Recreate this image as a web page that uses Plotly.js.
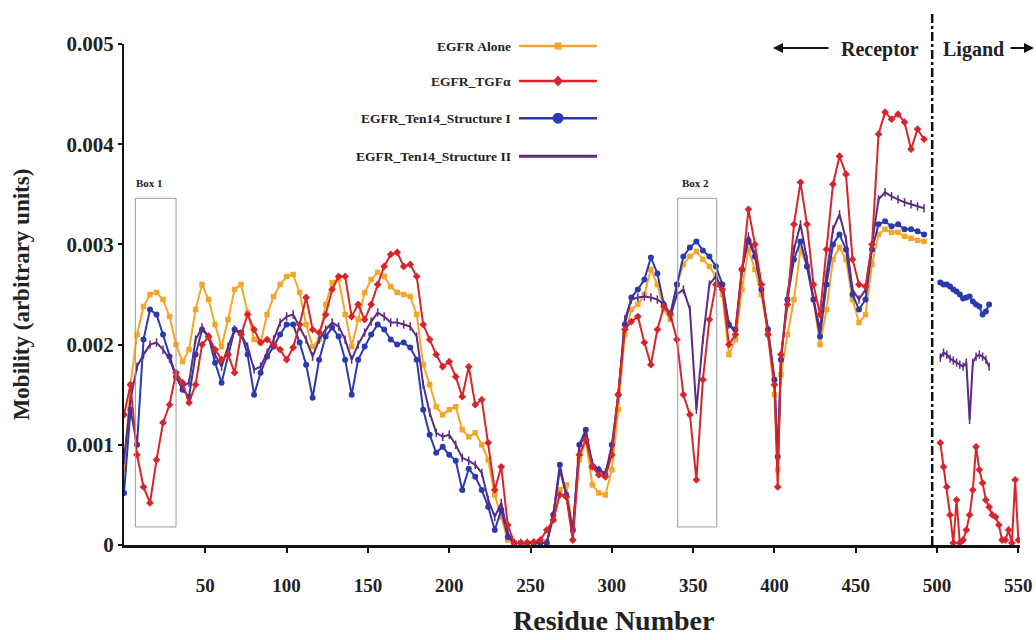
<!DOCTYPE html>
<html>
<head>
<meta charset="utf-8">
<script src="https://cdn.plot.ly/plotly-3.0.1.min.js"></script>
<style>html,body{margin:0;padding:0;background:#fff;}#chart{width:1036px;height:640px;}</style>
</head>
<body>
<div id="chart"></div>
<script>
// Residue numbers of the receptor samples
const residues = [
  0,4,8,12,16,20,24,28,32,36,
  40,44,48,52,56,60,64,68,72,76,
  80,84,88,92,96,100,104,108,112,116,
  120,124,128,132,136,140,144,148,152,156,
  160,164,168,172,176,180,184,188,192,196,
  200,204,208,212,216,220,224,228,232,236,
  240,244,248,252,256,260,264,268,272,276,
  280,284,288,292,296,300,304,308,312,316,
  320,324,328,332,336,340,344,348,352,356,
  360,364,368,372,376,380,384,388,392,396,
  400,402,404,408,412,416,420,424,428,432,
  436,440,444,448,452,456,460,464,468,472,
  476,480,484,488,492
];
// Residue numbers of the ligand samples
const ligandResidues = [502,504,506,508,510,512,514,516,518,520,522,524,526,528,530,532,534,536,538,540,542,544,546,548,550];

// Mobility values, in units of 0.001
const egfrAlone = [
  0.75,1.6,2.1,2.38,2.5,2.52,2.45,2.28,2.0,1.83,
  1.95,2.35,2.6,2.45,2.2,1.98,2.25,2.55,2.6,2.32,
  2.05,2.02,2.3,2.48,2.6,2.68,2.7,2.52,2.2,1.98,
  2.05,2.4,2.62,2.65,2.3,1.98,2.25,2.52,2.65,2.72,
  2.68,2.58,2.52,2.5,2.48,2.3,1.8,1.6,1.38,1.3,
  1.35,1.38,1.15,1.08,1.12,1.0,0.85,0.5,0.28,0.05,
  0.02,0.02,0.02,0.02,0.02,0.03,0.25,0.55,0.6,0.15,
  0.85,1.05,0.6,0.52,0.5,0.75,1.35,2.1,2.35,2.4,
  2.5,2.75,2.6,2.35,2.25,2.6,2.8,2.88,2.93,2.85,
  2.78,2.68,2.5,1.9,2.05,2.55,2.95,2.75,2.5,2.1,
  1.5,0.75,1.7,2.1,2.45,2.95,2.78,2.45,2.0,2.35,
  2.85,2.97,2.85,2.45,2.22,2.3,2.8,3.1,3.15,3.12,
  3.12,3.08,3.06,3.04,3.03
];
const egfrTGFa = [
  1.3,1.6,0.9,0.58,0.42,0.85,1.22,1.4,1.72,1.62,
  1.42,1.6,2.0,2.08,1.95,1.85,1.9,1.72,2.1,2.3,
  2.15,2.02,2.05,2.0,1.95,1.85,1.97,2.2,2.47,2.15,
  2.12,2.3,2.55,2.68,2.68,2.28,2.4,2.25,2.4,2.6,
  2.78,2.9,2.92,2.78,2.8,2.68,2.2,2.05,1.9,1.78,
  1.83,1.68,1.48,1.78,1.4,1.45,1.02,0.55,0.78,0.2,
  0.02,0.02,0.02,0.03,0.05,0.15,0.25,0.5,0.48,0.05,
  0.9,1.05,0.78,0.7,0.68,0.9,1.5,2.15,2.23,2.28,
  2.02,1.8,2.15,2.38,2.3,2.05,1.5,1.3,0.65,1.65,
  2.25,2.6,2.55,2.0,2.1,2.75,3.35,3.0,2.6,2.1,
  1.6,0.58,1.9,2.4,3.2,3.62,3.2,2.6,2.3,2.95,
  3.6,3.88,3.7,2.85,2.6,2.58,3.0,4.1,4.32,4.25,
  4.3,4.22,3.95,4.15,4.05
];
const structureI = [
  0.52,1.35,1.0,2.05,2.35,2.3,2.1,1.88,1.68,1.55,
  1.48,1.9,2.15,2.08,1.82,1.62,1.9,2.15,2.12,1.9,
  1.5,1.72,1.88,1.98,2.1,2.2,2.2,2.02,1.8,1.47,
  1.85,2.08,2.17,2.08,1.85,1.5,1.85,1.98,2.1,2.2,
  2.15,2.05,2.0,2.02,1.97,1.85,1.35,1.1,0.92,0.98,
  0.9,0.84,0.55,0.76,0.68,0.55,0.38,0.15,0.35,0.08,
  0.02,0.02,0.02,0.02,0.02,0.02,0.3,0.8,0.5,0.15,
  1.0,1.15,0.78,0.75,0.7,1.0,1.5,2.2,2.47,2.55,
  2.65,2.87,2.71,2.4,2.31,2.6,2.88,2.97,3.03,2.94,
  2.88,2.78,2.6,2.2,2.15,2.75,3.04,2.88,2.55,2.15,
  1.65,0.88,1.85,2.45,2.85,3.03,2.78,2.45,2.08,2.6,
  3.0,3.1,2.95,2.5,2.35,2.45,2.95,3.2,3.23,3.18,
  3.2,3.15,3.15,3.13,3.1
];
const structureII = [
  0.85,1.45,1.78,1.9,2.0,2.02,1.95,1.86,1.68,1.58,
  1.62,2.05,2.17,2.08,1.9,1.78,1.98,2.15,2.1,1.98,
  1.75,1.78,1.92,2.05,2.22,2.28,2.3,2.18,2.05,1.88,
  2.05,2.15,2.22,2.18,2.05,1.85,2.0,2.12,2.23,2.32,
  2.28,2.22,2.22,2.2,2.18,2.08,1.6,1.32,1.12,1.08,
  1.1,1.0,0.87,0.84,0.8,0.72,0.45,0.28,0.42,0.12,
  0.02,0.02,0.02,0.02,0.02,0.02,0.3,0.75,0.5,0.12,
  0.98,1.12,0.82,0.75,0.72,0.95,1.5,2.25,2.45,2.47,
  2.48,2.47,2.45,2.4,2.28,2.5,2.55,2.35,1.35,2.05,
  2.6,2.68,2.55,2.2,2.12,2.75,3.08,2.9,2.55,2.15,
  1.65,0.82,1.85,2.5,2.95,3.2,2.85,2.45,2.15,2.7,
  3.15,3.3,3.05,2.55,2.45,2.55,3.0,3.45,3.52,3.48,
  3.45,3.42,3.4,3.38,3.36
];
// Ligand part (units of 0.001); null = no sample
const ligandTGFa = [1.02,0.78,0.58,0.3,0.02,0.45,0.02,0.05,0.15,0.3,0.55,0.98,0.75,0.62,0.45,0.38,0.3,0.28,0.2,0.05,0.05,0.15,0.02,0.65,0.05];
const ligandStructureI = [2.62,2.6,2.6,2.58,2.55,2.53,2.5,2.46,2.47,2.48,2.43,2.4,2.38,2.3,2.33,2.4,null,null,null,null,null,null,null,null,null];
const ligandStructureII = [1.87,1.92,1.9,1.86,1.84,1.82,1.8,1.78,1.82,1.25,1.82,1.88,1.9,1.88,1.85,1.78,null,null,null,null,null,null,null,null,null];

const seriesNames = ['EGFR Alone','EGFR_TGF\u03b1','EGFR_Ten14_Structure I','EGFR_Ten14_Structure II'];
const xTicks = [50,100,150,200,250,300,350,400,450,500,550];
const yTickVals = [0,0.001,0.002,0.003,0.004,0.005];
const yTickText = ['0','0.001','0.002','0.003','0.004','0.005'];

const C_OR = '#F4A62A', C_RD = '#D7262B', C_BL = '#2B3BAE', C_PU = '#5D2A84';
const toUnits = a => a.map(v => v === null ? null : v / 1000);
const SERIF = 'Liberation Serif, Times New Roman, serif';

function tr(x, y, color, symbol, size, name) {
  const m = {symbol: symbol, size: size, color: color};
  if (symbol === 'line-ns') m.line = {color: color, width: 1.5};
  return {x: x, y: toUnits(y), type: 'scatter', mode: 'lines+markers', name: name,
          line: {color: color, width: 2}, marker: m, hoverinfo: 'x+y'};
}

const data = [
  tr(residues, egfrAlone, C_OR, 'square', 5.5, seriesNames[0]),
  tr(residues, structureI, C_BL, 'circle', 6, seriesNames[2]),
  tr(ligandResidues, ligandStructureI, C_BL, 'circle', 6, seriesNames[2]),
  tr(residues, structureII, C_PU, 'line-ns', 6, seriesNames[3]),
  tr(ligandResidues, ligandStructureII, C_PU, 'line-ns', 6, seriesNames[3]),
  tr(residues, egfrTGFa, C_RD, 'diamond', 6, seriesNames[1]),
  tr(ligandResidues, ligandTGFa, C_RD, 'diamond', 6, seriesNames[1])
];

// legend (text on left, sample on right) built from shapes/annotations
const legRows = [0.996, 0.926, 0.852, 0.776];
const legColors = [C_OR, C_RD, C_BL, C_PU];
const lx0 = 0.4408, lx1 = 0.5279, lxm = 0.4844, ltx = 0.4342;
const pxX = 1/896, pxY = 1/501;
const shapes = [];
const annotations = [];
legRows.forEach((y, i) => {
  shapes.push({type: 'line', xref: 'paper', yref: 'paper', x0: lx0, x1: lx1, y0: y, y1: y,
               line: {color: legColors[i], width: i === 3 ? 3 : 2.5}});
  annotations.push({xref: 'paper', yref: 'paper', x: ltx, y: y, xanchor: 'right', yanchor: 'middle',
                    text: seriesNames[i], showarrow: false,
                    font: {family: SERIF, size: 13.5, color: '#222', weight: 700}});
});
shapes.push({type: 'rect', xref: 'paper', yref: 'paper', x0: lxm-3.5*pxX, x1: lxm+3.5*pxX,
             y0: legRows[0]-3.5*pxY, y1: legRows[0]+3.5*pxY, fillcolor: C_OR, line: {width: 0}});
const dx = 5*pxX, dy = 5.5*pxY, yr = legRows[1];
shapes.push({type: 'path', xref: 'paper', yref: 'paper',
             path: `M ${lxm},${yr-dy} L ${lxm+dx},${yr} L ${lxm},${yr+dy} L ${lxm-dx},${yr} Z`,
             fillcolor: C_RD, line: {width: 0}});
shapes.push({type: 'circle', xref: 'paper', yref: 'paper', x0: lxm-5.5*pxX, x1: lxm+5.5*pxX,
             y0: legRows[2]-5.5*pxY, y1: legRows[2]+5.5*pxY, fillcolor: C_BL, line: {width: 0}});

// Boxes
shapes.push({type: 'rect', xref: 'x', yref: 'y', x0: 7, x1: 32, y0: 0.00018, y1: 0.00346,
             line: {color: '#9a9a9a', width: 1}, fillcolor: 'rgba(0,0,0,0)'});
shapes.push({type: 'rect', xref: 'x', yref: 'y', x0: 340.5, x1: 364.5, y0: 0.00018, y1: 0.00346,
             line: {color: '#9a9a9a', width: 1}, fillcolor: 'rgba(0,0,0,0)'});
annotations.push({xref: 'x', yref: 'y', x: 15.5, y: 0.00361, text: 'Box 1', showarrow: false,
                  xanchor: 'center', yanchor: 'middle',
                  font: {family: SERIF, size: 11, color: '#222', weight: 700}});
annotations.push({xref: 'x', yref: 'y', x: 351.5, y: 0.00361, text: 'Box 2', showarrow: false,
                  xanchor: 'center', yanchor: 'middle',
                  font: {family: SERIF, size: 11, color: '#222', weight: 700}});

// receptor / ligand divider
const divider = 497;
shapes.push({type: 'line', xref: 'paper', yref: 'paper', x0: divider/551, x1: divider/551, y0: 0, y1: 1.066,
             line: {color: '#111', width: 2.5, dash: 'dashdot'}});
annotations.push({xref: 'paper', yref: 'paper', x: (880-124)/896, y: 0.99, text: 'Receptor', showarrow: false,
                  xanchor: 'center', yanchor: 'middle',
                  font: {family: SERIF, size: 20, color: '#222', weight: 700}});
annotations.push({xref: 'paper', yref: 'paper', x: (973-124)/896, y: 0.99, text: 'Ligand', showarrow: false,
                  xanchor: 'center', yanchor: 'middle',
                  font: {family: SERIF, size: 20, color: '#222', weight: 700}});
annotations.push({xref: 'paper', yref: 'paper', x: (773-124)/896, y: 0.992, ax: 57, ay: 0, text: '',
                  showarrow: true, arrowhead: 2, arrowsize: 1, arrowwidth: 2, arrowcolor: '#111'});
annotations.push({xref: 'paper', yref: 'paper', x: (1034-124)/896, y: 0.992, ax: -25, ay: 0, text: '',
                  showarrow: true, arrowhead: 2, arrowsize: 1, arrowwidth: 2, arrowcolor: '#111'});
// x-axis title (placed as in the original figure, right of centre)
annotations.push({xref: 'paper', yref: 'paper', x: (613-124)/896, y: (545-638)/501, text: 'Residue Number',
                  showarrow: false, xanchor: 'center', yanchor: 'bottom',
                  font: {family: SERIF, size: 28, color: '#222', weight: 700}});

const layout = {
  width: 1036, height: 640,
  margin: {l: 124, r: 16, t: 44, b: 95},
  paper_bgcolor: '#fff', plot_bgcolor: '#fff',
  showlegend: false,
  font: {family: SERIF, color: '#222'},
  xaxis: {
    range: [0, 551], showgrid: false, zeroline: false,
    showline: true, linecolor: '#111', linewidth: 3,
    ticks: 'outside', ticklen: 5, tickwidth: 2, tickcolor: '#111',
    tickvals: xTicks, ticklabelstandoff: 16,
    tickfont: {family: SERIF, size: 19, color: '#222', weight: 700}
  },
  yaxis: {
    range: [0, 0.005], showgrid: false, zeroline: false,
    showline: true, linecolor: '#111', linewidth: 2,
    ticks: 'outside', ticklen: 4, tickwidth: 2, tickcolor: '#111',
    tickvals: yTickVals, ticktext: yTickText,
    tickfont: {family: SERIF, size: 21, color: '#222', weight: 700},
    title: {text: 'Mobility (arbitrary units)', standoff: 30, font: {family: SERIF, size: 23, color: '#222', weight: 700}}
  },
  shapes: shapes,
  annotations: annotations
};

Plotly.newPlot('chart', data, layout, {displayModeBar: false, staticPlot: true});
</script>
</body>
</html>
